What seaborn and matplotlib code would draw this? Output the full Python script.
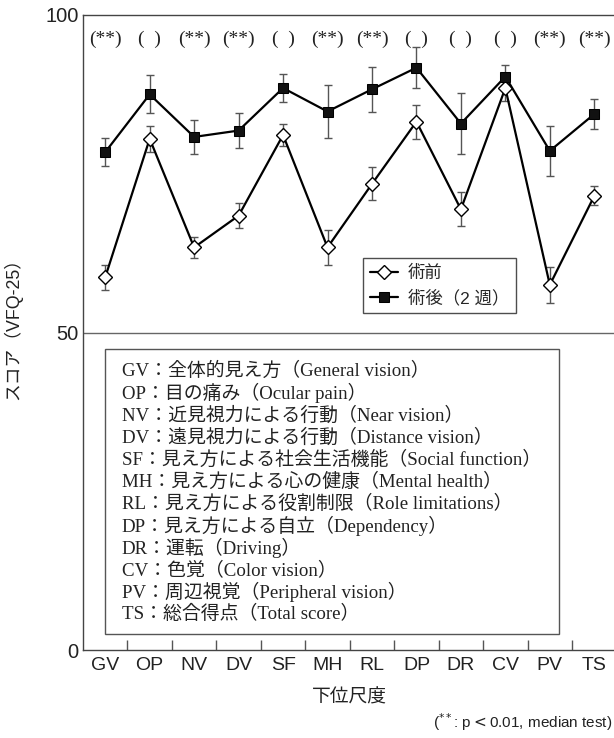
import numpy as np
import pandas as pd
import seaborn as sns
import matplotlib.pyplot as plt
from matplotlib.patches import Rectangle

# data (VFQ-25 subscale scores)
cats = ["GV", "OP", "NV", "DV", "SF", "MH", "RL", "DP", "DR", "CV", "PV", "TS"]
pre = [58.7, 80.5, 63.4, 68.4, 81.1, 63.4, 73.4, 83.2, 69.4, 88.5, 57.5, 71.5]
pre_err = [2.0, 2.0, 1.7, 2.0, 1.8, 2.7, 2.6, 2.7, 2.7, 2.1, 2.8, 1.5]
post = [78.4, 87.5, 80.8, 81.8, 88.5, 84.8, 88.3, 91.7, 82.9, 90.3, 78.6, 84.4]
post_err = [2.25, 3.0, 2.7, 2.8, 2.2, 4.1, 3.5, 3.2, 4.8, 1.8, 3.9, 2.3]
sig = ["**", "", "**", "**", "", "**", "**", "", "", "", "**", "**"]
descriptions = [
    "全体的見え方（General vision）",
    "目の痛み（Ocular pain）",
    "近見視力による行動（Near vision）",
    "遠見視力による行動（Distance vision）",
    "見え方による社会生活機能（Social function）",
    "見え方による心の健康（Mental health）",
    "見え方による役割制限（Role limitations）",
    "見え方による自立（Dependency）",
    "運転（Driving）",
    "色覚（Color vision）",
    "周辺視覚（Peripheral vision）",
    "総合得点（Total score）",
]

sns.set_theme(style="white")
plt.rcParams["font.family"] = ["Liberation Sans", "Noto Sans CJK JP"]
serif = ["Liberation Serif", "Noto Sans CJK JP"]

fig = plt.figure(figsize=(6.14, 7.38), dpi=100)
ax = fig.add_axes([83 / 614, 88 / 738, 533.5 / 614, 635 / 738])

x = np.arange(len(cats))
df = pd.DataFrame({"x": x, "pre": pre, "post": post})

# error bars first so they sit behind the markers
ax.errorbar(x, pre, yerr=pre_err, fmt="none", ecolor="#555555",
            elinewidth=1, capsize=3, zorder=1)
ax.errorbar(x, post, yerr=post_err, fmt="none", ecolor="#555555",
            elinewidth=1, capsize=3, zorder=1)

sns.lineplot(data=df, x="x", y="pre", ax=ax, color="black", lw=1.6,
             marker="D", markersize=7, markerfacecolor="white",
             markeredgecolor="black", markeredgewidth=1, label="術前", zorder=3)
sns.lineplot(data=df, x="x", y="post", ax=ax, color="black", lw=1.6,
             marker="s", markersize=7, markerfacecolor="#111111",
             markeredgecolor="black", label="術後（2 週）", zorder=3)

ax.set_xlim(-0.5, 11.5)
ax.set_ylim(0, 100)

# significance marks along the top
for i, s in enumerate(sig):
    txt = "(" + s + ")" if s else "(  )"
    ax.text(i, 96.1, txt, ha="center", va="center", fontsize=14,
            family=serif, color="#222222")

# gridline at 50
ax.axhline(50, color="#666666", lw=1, zorder=0)

# abbreviation box
ax.add_patch(Rectangle((0.0, 2.5), 10.2, 44.9, fill=False,
                       edgecolor="#555555", lw=1, zorder=2))
for k, (c, d) in enumerate(zip(cats, descriptions)):
    ax.text(0.37, 43.9 - 3.48 * k, c + "：" + d, ha="left", va="center",
            fontsize=13.6, family=serif, color="#222222")

# ticks
ax.set_xticks(x)
ax.set_xticklabels(cats, fontsize=14)
ax.set_xticks(np.arange(0.5, 11, 1), minor=True)
ax.tick_params(axis="x", which="major", length=0, pad=5, colors="#222222")
ax.tick_params(axis="x", which="minor", length=7, direction="in",
               width=1, color="#555555", bottom=True)
ax.set_yticks([0, 50, 100])
ax.set_yticklabels(["0", "50", "100"], fontsize=14.5)
ax.tick_params(axis="y", length=0, pad=3, colors="#222222")

for side in ["left", "top", "bottom"]:
    ax.spines[side].set_color("#444444")
    ax.spines[side].set_linewidth(1)
ax.spines["right"].set_visible(False)

ax.set_xlabel("下位尺度", fontsize=13.5, color="#222222")
ax.xaxis.set_label_coords((349 - 83) / 533.5, (650 - 689) / 635)
ax.set_ylabel("スコア（VFQ-25）", fontsize=12.8, color="#222222")
ax.yaxis.set_label_coords((22 - 83) / 533.5, (650 - 325) / 635)

leg = ax.legend(loc="upper left", bbox_to_anchor=(0.5248, 0.617),
                borderaxespad=0, fontsize=12.5, frameon=True, fancybox=False,
                handlelength=1.6, handletextpad=0.58, labelspacing=0.45,
                borderpad=0.4)
leg.get_frame().set_edgecolor("#222222")
leg.get_frame().set_linewidth(1)

fig.text(612 / 614, 1 - 722 / 738, r"($^{**}$: p$<$0.01, median test)",
         ha="right", va="center", fontsize=11, color="#222222")

fig.savefig("out.png", dpi=100)
